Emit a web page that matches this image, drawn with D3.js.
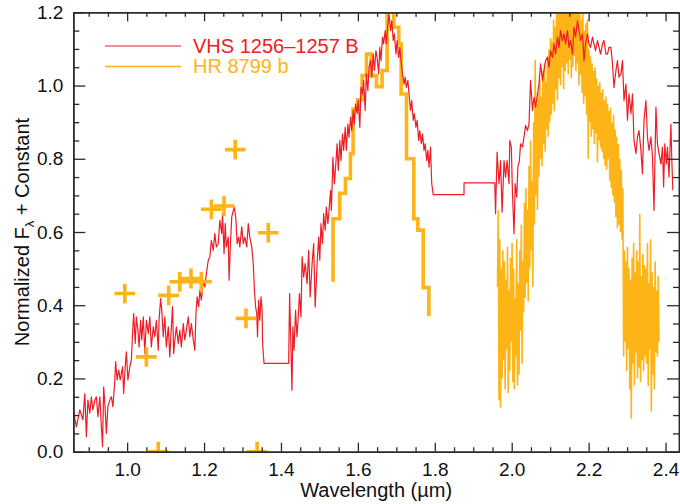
<!DOCTYPE html>
<html>
<head>
<meta charset="utf-8">
<script src="https://cdn.jsdelivr.net/npm/d3@7"></script>
<style>
  html, body { margin: 0; padding: 0; background: #fff; }
  svg { display: block; font-family: "Liberation Sans", Arial, Helvetica, sans-serif; }
</style>
</head>
<body>
<svg id="chart" width="680" height="504"></svg>
<script>
// ---------------- DATA ----------------
const X_DOMAIN = [0.86, 2.435];
const Y_DOMAIN = [0, 1.2];
const X_MAJOR = [1.0, 1.2, 1.4, 1.6, 1.8, 2.0, 2.2, 2.4];
const X_MINOR = [0.9,0.95,1.05,1.1,1.15,1.25,1.3,1.35,1.45,1.5,1.55,1.65,1.7,1.75,1.85,1.9,1.95,2.05,2.1,2.15,2.25,2.3,2.35];
const Y_MAJOR = [0.0, 0.2, 0.4, 0.6, 0.8, 1.0, 1.2];
const Y_MINOR = [0.05,0.1,0.15,0.25,0.3,0.35,0.45,0.5,0.55,0.65,0.7,0.75,0.85,0.9,0.95,1.05,1.1,1.15];
const SERIES_NAMES = ["VHS 1256\u20131257 B", "HR 8799 b"];

// VHS 1256-1257 B spectrum (wavelength um, normalized flux)
const VHS_WAVE = [
0.860,0.868,0.877,0.885,0.890,0.894,0.898,0.903,0.907,0.911,0.916,0.920,0.924,0.929,0.933,0.936,0.939,0.943,0.946,0.950,
0.955,0.959,0.963,0.968,0.970,0.974,0.978,0.982,0.988,0.991,0.995,0.998,1.002,1.007,1.011,1.014,1.017,1.021,1.024,1.028,
1.031,1.035,1.038,1.042,1.046,1.050,1.055,1.059,1.063,1.068,1.072,1.076,1.081,1.083,1.087,1.090,1.094,1.098,1.102,1.107,
1.111,1.114,1.118,1.121,1.125,1.128,1.133,1.137,1.141,1.146,1.150,1.154,1.159,1.163,1.167,1.172,1.176,1.179,1.182,1.186,
1.189,1.193,1.198,1.202,1.206,1.211,1.215,1.219,1.224,1.228,1.232,1.237,1.241,1.246,1.248,1.252,1.255,1.258,1.263,1.265,
1.269,1.272,1.276,1.279,1.283,1.286,1.290,1.293,1.298,1.302,1.306,1.311,1.315,1.319,1.324,1.328,1.331,1.334,1.337,1.339,
1.342,1.345,1.348,1.351,1.352,1.354,1.356,1.420,1.4225,1.425,1.4286,1.431,1.434,1.438,1.4416,1.445,1.448,1.452,1.455,1.459,
1.463,1.468,1.472,1.476,1.481,1.485,1.489,1.494,1.498,1.501,1.504,1.508,1.511,1.515,1.518,1.522,1.525,1.529,1.531,1.534,
1.535,1.539,1.542,1.546,1.549,1.553,1.556,1.560,1.563,1.567,1.570,1.574,1.577,1.581,1.584,1.588,1.591,1.594,1.598,1.601,
1.605,1.608,1.612,1.615,1.619,1.622,1.626,1.629,1.633,1.636,1.640,1.643,1.647,1.650,1.654,1.657,1.660,1.664,1.667,1.671,
1.674,1.678,1.681,1.685,1.688,1.692,1.695,1.699,1.702,1.706,1.709,1.713,1.716,1.720,1.723,1.726,1.730,1.733,1.737,1.740,
1.744,1.747,1.751,1.754,1.758,1.761,1.765,1.768,1.772,1.775,1.779,1.782,1.785,1.789,1.792,1.796,1.876,1.876,1.956,1.958,
1.962,1.967,1.971,1.975,1.980,1.984,1.988,1.993,1.995,1.999,2.002,2.006,2.009,2.013,2.016,2.020,2.023,2.028,2.032,2.036,
2.041,2.045,2.049,2.054,2.058,2.062,2.067,2.071,2.075,2.080,2.084,2.088,2.093,2.097,2.101,2.106,2.110,2.114,2.119,2.123,
2.127,2.132,2.136,2.140,2.145,2.149,2.153,2.158,2.162,2.166,2.171,2.175,2.179,2.184,2.188,2.192,2.197,2.201,2.205,2.210,
2.214,2.218,2.223,2.227,2.231,2.236,2.240,2.245,2.249,2.253,2.258,2.262,2.266,2.271,2.275,2.279,2.284,2.288,2.292,2.297,
2.301,2.305,2.310,2.314,2.318,2.323,2.327,2.331,2.336,2.340,2.344,2.349,2.353,2.357,2.362,2.366,2.370,2.375,2.379,2.383,
2.388,2.392,2.395,2.398,2.402,2.405,2.409,2.414,2.416,2.419
];
const VHS_FLUX = [
0.114,0.068,0.114,0.087,0.159,0.041,0.141,0.105,0.150,0.114,0.141,0.150,0.096,0.150,0.068,0.014,0.177,0.114,0.050,0.123,
0.141,0.150,0.123,0.196,0.246,0.196,0.223,0.196,0.232,0.159,0.232,0.273,0.196,0.232,0.250,0.323,0.377,0.296,0.368,0.332,
0.286,0.359,0.305,0.368,0.268,0.359,0.323,0.368,0.286,0.341,0.314,0.359,0.277,0.359,0.418,0.386,0.314,0.368,0.286,0.341,
0.259,0.323,0.396,0.268,0.314,0.341,0.296,0.332,0.286,0.350,0.305,0.332,0.368,0.314,0.350,0.305,0.277,0.377,0.423,0.396,
0.441,0.414,0.468,0.450,0.486,0.523,0.532,0.577,0.550,0.596,0.559,0.568,0.632,0.596,0.650,0.541,0.623,0.559,0.586,0.468,
0.577,0.641,0.659,0.668,0.632,0.568,0.586,0.559,0.614,0.568,0.586,0.559,0.623,0.586,0.559,0.514,0.441,0.396,0.377,0.314,
0.414,0.359,0.423,0.386,0.305,0.268,0.241,0.241,0.432,0.323,0.168,0.341,0.277,0.386,0.314,0.368,0.432,0.368,0.532,0.477,
0.514,0.459,0.550,0.423,0.514,0.568,0.395,0.514,0.586,0.523,0.623,0.568,0.650,0.605,0.668,0.623,0.659,0.714,0.659,0.759,
0.804,0.732,0.777,0.841,0.768,0.850,0.795,0.868,0.823,0.886,0.823,0.895,0.859,0.914,0.877,0.932,0.895,0.950,0.923,0.959,
0.886,0.995,0.977,1.014,0.932,1.032,0.986,1.050,1.068,1.023,1.086,1.041,1.095,1.077,1.032,1.104,1.068,1.132,1.114,1.150,
1.114,1.168,1.195,1.150,1.177,1.123,1.141,1.086,1.123,1.077,1.104,1.059,1.032,1.004,1.023,0.995,1.014,0.977,0.932,0.959,
0.905,0.923,0.886,0.905,0.850,0.877,0.841,0.868,0.823,0.841,0.795,0.823,0.777,0.832,0.732,0.702,0.702,0.734,0.734,0.650,
0.818,0.732,0.795,0.654,0.795,0.750,0.795,0.732,0.850,0.832,0.705,0.595,0.732,0.695,0.777,0.795,0.841,0.832,0.859,0.891,
0.877,0.895,1.014,0.932,0.968,0.941,0.977,1.004,1.059,1.014,1.041,1.068,1.077,1.050,1.095,1.077,1.114,1.086,1.132,1.104,
1.150,1.123,1.141,1.114,1.150,1.104,1.123,1.086,1.159,1.132,1.177,1.150,1.123,1.141,1.068,1.114,1.141,1.114,1.104,1.132,
1.114,1.095,1.123,1.104,1.086,1.114,1.123,1.086,1.086,1.104,1.104,1.059,0.995,1.041,1.068,1.023,1.032,1.068,0.959,1.004,
0.905,0.977,0.923,0.977,0.850,0.814,0.859,0.877,0.823,0.759,0.905,0.959,0.859,0.823,0.859,0.805,0.659,0.941,0.841,0.814,
0.786,0.832,0.723,0.841,0.786,0.832,0.750,0.895,0.805,0.714
];

// HR 8799 b: H-band low-resolution spectrum (step bins: left edge, flux)
const HR_H_WAVE = [1.5354,1.5354,1.5528,1.5676,1.5806,1.5875,1.5997,1.6110,1.6222,1.6344,1.6483,1.6630,1.6761,1.6934,1.7064,1.7125,1.7264,1.7455,1.7559,1.7698,1.7846];
const HR_H_FLUX = [0.464,0.636,0.706,0.746,0.814,0.936,0.961,1.027,1.086,1.027,0.997,1.041,1.250,1.159,1.114,0.977,0.800,0.636,0.605,0.448,0.370];

// HR 8799 b: K-band spectrum
const HR_K_WAVE = [
1.963,1.965,1.967,1.969,1.971,1.973,1.975,1.977,1.979,1.981,1.983,1.985,1.987,1.989,1.991,1.993,1.995,1.997,1.999,2.001,
2.003,2.005,2.007,2.009,2.011,2.013,2.015,2.017,2.019,2.021,2.023,2.025,2.027,2.029,2.031,2.033,2.035,2.037,2.039,2.041,
2.043,2.045,2.047,2.049,2.051,2.053,2.055,2.057,2.059,2.061,2.063,2.065,2.067,2.069,2.071,2.073,2.075,2.077,2.079,2.081,
2.083,2.085,2.087,2.089,2.091,2.093,2.095,2.097,2.099,2.101,2.103,2.105,2.107,2.109,2.111,2.113,2.115,2.117,2.119,2.121,
2.123,2.125,2.127,2.129,2.131,2.133,2.135,2.137,2.139,2.141,2.143,2.145,2.147,2.149,2.151,2.153,2.155,2.157,2.159,2.161,
2.163,2.165,2.167,2.169,2.171,2.173,2.175,2.177,2.179,2.181,2.183,2.185,2.187,2.189,2.191,2.193,2.195,2.197,2.199,2.201,
2.203,2.205,2.207,2.209,2.211,2.213,2.215,2.217,2.219,2.221,2.223,2.225,2.227,2.229,2.231,2.233,2.235,2.237,2.239,2.241,
2.243,2.245,2.247,2.249,2.251,2.253,2.255,2.257,2.259,2.261,2.263,2.265,2.267,2.269,2.271,2.273,2.275,2.277,2.279,2.281,
2.283,2.285,2.287,2.289,2.291,2.293,2.295,2.297,2.299,2.301,2.303,2.305,2.307,2.309,2.311,2.313,2.315,2.317,2.319,2.321,
2.323,2.325,2.327,2.329,2.331,2.333,2.335,2.337,2.339,2.341,2.343,2.345,2.347,2.349,2.351,2.353,2.355,2.357,2.359,2.361,
2.363,2.365,2.367,2.369,2.371,2.373,2.375,2.377,2.379,2.381,2.383
];
const HR_K_FLUX = [
0.45,0.66,0.14,0.58,0.12,0.50,0.20,0.55,0.25,0.52,0.17,0.47,0.28,0.56,0.16,0.44,0.22,0.53,0.30,0.57,
0.19,0.50,0.17,0.42,0.26,0.58,0.18,0.46,0.21,0.55,0.33,0.62,0.24,0.52,0.38,0.68,0.42,0.72,0.46,0.66,
0.41,0.78,0.50,0.85,0.55,0.74,0.45,0.90,0.62,1.07,0.70,0.95,0.66,0.98,0.75,1.02,0.80,0.97,0.78,1.04,
0.84,1.06,0.82,1.01,0.88,1.08,0.86,1.10,0.90,1.13,0.92,1.12,0.95,1.18,0.93,1.16,0.99,1.22,0.96,1.20,
1.02,1.25,1.00,1.23,1.05,1.24,0.99,1.26,1.04,1.22,1.06,1.27,1.03,1.25,1.07,1.24,1.02,1.26,1.05,1.22,
1.08,1.25,1.04,1.21,1.06,1.24,1.00,1.22,1.03,1.18,0.98,1.20,0.95,1.15,0.97,1.17,0.92,1.18,0.80,1.10,
0.90,1.08,0.86,1.06,0.88,1.04,0.84,1.05,0.87,1.02,0.79,1.00,0.85,1.01,0.83,0.98,0.82,0.99,0.80,0.96,
0.78,0.97,0.77,0.95,0.80,0.93,0.74,0.94,0.72,0.90,0.70,0.92,0.68,0.88,0.64,0.86,0.61,0.84,0.62,0.80,
0.60,0.77,0.58,0.72,0.26,0.55,0.30,0.52,0.22,0.56,0.28,0.50,0.17,0.47,0.09,0.53,0.24,0.57,0.18,0.49,
0.27,0.55,0.20,0.52,0.23,0.65,0.19,0.48,0.25,0.54,0.22,0.51,0.26,0.50,0.24,0.57,0.18,0.46,0.28,0.58,
0.11,0.49,0.21,0.45,0.17,0.52,0.27,0.44,0.26,0.48,0.30
];

// HR 8799 b photometry (wavelength, flux, errors)
const PHOT_WAVE = [0.994,1.050,1.081,1.108,1.137,1.166,1.193,1.219,1.252,1.281,1.309,1.338,1.367];
const PHOT_FLUX = [0.432,0.259,0.000,0.427,0.464,0.473,0.464,0.662,0.671,0.825,0.364,0.000,0.598];
const PHOT_XERR = [0.027,0.027,0.027,0.027,0.027,0.027,0.027,0.027,0.027,0.027,0.027,0.027,0.027];
const PHOT_YERR = [0.027,0.027,0.027,0.027,0.027,0.027,0.027,0.027,0.027,0.027,0.027,0.027,0.027];

// ---------------- STYLE / LAYOUT ----------------
const RED = "#ee1c25";
const ORANGE = "#fdb417";
const AXIS = "#2a2a2a";
const L = 73.3, R = 679, T = 12.3, B = 451.7;

const svg = d3.select("#chart");
const x = d3.scaleLinear().domain(X_DOMAIN).range([L, R]);
const y = d3.scaleLinear().domain(Y_DOMAIN).range([B, T]);

svg.append("defs").append("clipPath").attr("id", "plotclip")
  .append("rect").attr("x", L).attr("y", T).attr("width", R - L).attr("height", B - T);

const plot = svg.append("g").attr("clip-path", "url(#plotclip)");
const line = d3.line().x(d => x(d[0])).y(d => y(d[1]));

// HR 8799 b K band
plot.append("path")
  .attr("d", line(d3.zip(HR_K_WAVE, HR_K_FLUX)))
  .attr("fill", "none").attr("stroke", ORANGE).attr("stroke-width", 1.6)
  .attr("stroke-linejoin", "miter");

// HR 8799 b H band (steps)
plot.append("path")
  .attr("d", line.curve(d3.curveStepAfter)(d3.zip(HR_H_WAVE, HR_H_FLUX)))
  .attr("fill", "none").attr("stroke", ORANGE).attr("stroke-width", 3.6);
line.curve(d3.curveLinear);

// VHS spectrum
plot.append("path")
  .attr("d", line(d3.zip(VHS_WAVE, VHS_FLUX)))
  .attr("fill", "none").attr("stroke", RED).attr("stroke-width", 1.2)
  .attr("stroke-linejoin", "round");

// Photometry crosses
const phot = d3.range(PHOT_WAVE.length).map(i => ({
  w: PHOT_WAVE[i], f: PHOT_FLUX[i], xe: PHOT_XERR[i], ye: PHOT_YERR[i]
}));
const cross = plot.append("g").attr("stroke", ORANGE).attr("stroke-width", 3.6);
cross.selectAll("line.h").data(phot).join("line").attr("class", "h")
  .attr("x1", d => x(d.w - d.xe)).attr("x2", d => x(d.w + d.xe))
  .attr("y1", d => y(d.f)).attr("y2", d => y(d.f));
cross.selectAll("line.v").data(phot).join("line").attr("class", "v")
  .attr("x1", d => x(d.w)).attr("x2", d => x(d.w))
  .attr("y1", d => y(d.f - d.ye)).attr("y2", d => y(d.f + d.ye));

// ---------------- AXES ----------------
const fmt = d3.format(".1f");
function styleAxis(g) {
  g.selectAll("path.domain").attr("stroke", AXIS).attr("stroke-width", 1.5);
  g.selectAll(".tick line").attr("stroke", AXIS).attr("stroke-width", 1.3);
  g.selectAll("text").attr("fill", "#111").attr("font-size", 19)
    .attr("font-family", "'Liberation Sans', Arial, Helvetica, sans-serif");
}
// bottom
svg.append("g").attr("transform", `translate(0,${B})`)
  .call(d3.axisBottom(x).tickValues(X_MAJOR).tickFormat(fmt).tickSize(-9).tickSizeOuter(0).tickPadding(11))
  .call(styleAxis);
svg.append("g").attr("transform", `translate(0,${B})`)
  .call(d3.axisBottom(x).tickValues(X_MINOR).tickFormat("").tickSize(-4.5).tickSizeOuter(0))
  .call(styleAxis);
// top
svg.append("g").attr("transform", `translate(0,${T})`)
  .call(d3.axisTop(x).tickValues(X_MAJOR).tickFormat("").tickSize(-9).tickSizeOuter(0))
  .call(styleAxis);
svg.append("g").attr("transform", `translate(0,${T})`)
  .call(d3.axisTop(x).tickValues(X_MINOR).tickFormat("").tickSize(-4.5).tickSizeOuter(0))
  .call(styleAxis);
// left
svg.append("g").attr("transform", `translate(${L},0)`)
  .call(d3.axisLeft(y).tickValues(Y_MAJOR).tickFormat(fmt).tickSize(-12).tickSizeOuter(0).tickPadding(10))
  .call(styleAxis);
svg.append("g").attr("transform", `translate(${L},0)`)
  .call(d3.axisLeft(y).tickValues(Y_MINOR).tickFormat("").tickSize(-6).tickSizeOuter(0))
  .call(styleAxis);
// right
svg.append("g").attr("transform", `translate(${R},0)`)
  .call(d3.axisRight(y).tickValues(Y_MAJOR).tickFormat("").tickSize(-12).tickSizeOuter(0))
  .call(styleAxis);
svg.append("g").attr("transform", `translate(${R},0)`)
  .call(d3.axisRight(y).tickValues(Y_MINOR).tickFormat("").tickSize(-6).tickSizeOuter(0))
  .call(styleAxis);

// axis titles
svg.append("text")
  .attr("x", (L + R) / 2).attr("y", 497)
  .attr("text-anchor", "middle").attr("font-size", 20).attr("fill", "#111")
  .text("Wavelength (\u00b5m)");

const yt = svg.append("text")
  .attr("transform", `translate(28.5,${(T + B) / 2}) rotate(-90)`)
  .attr("text-anchor", "middle").attr("font-size", 20).attr("fill", "#111");
yt.append("tspan").text("Normalized F");
yt.append("tspan").attr("font-size", 13).attr("dy", 5).text("\u03bb");
yt.append("tspan").attr("dy", -5).text(" + Constant");

// legend
const legend = svg.append("g");
const legColors = [RED, ORANGE];
const legY = [46, 66.5];
SERIES_NAMES.forEach((name, i) => {
  legend.append("line")
    .attr("x1", 105).attr("x2", 181).attr("y1", legY[i]).attr("y2", legY[i])
    .attr("stroke", legColors[i]).attr("stroke-width", i === 0 ? 1.2 : 1.6);
  legend.append("text")
    .attr("x", 193).attr("y", legY[i] + 6.8)
    .attr("font-size", 20).attr("fill", legColors[i])
    .text(name);
});
</script>
</body>
</html>
